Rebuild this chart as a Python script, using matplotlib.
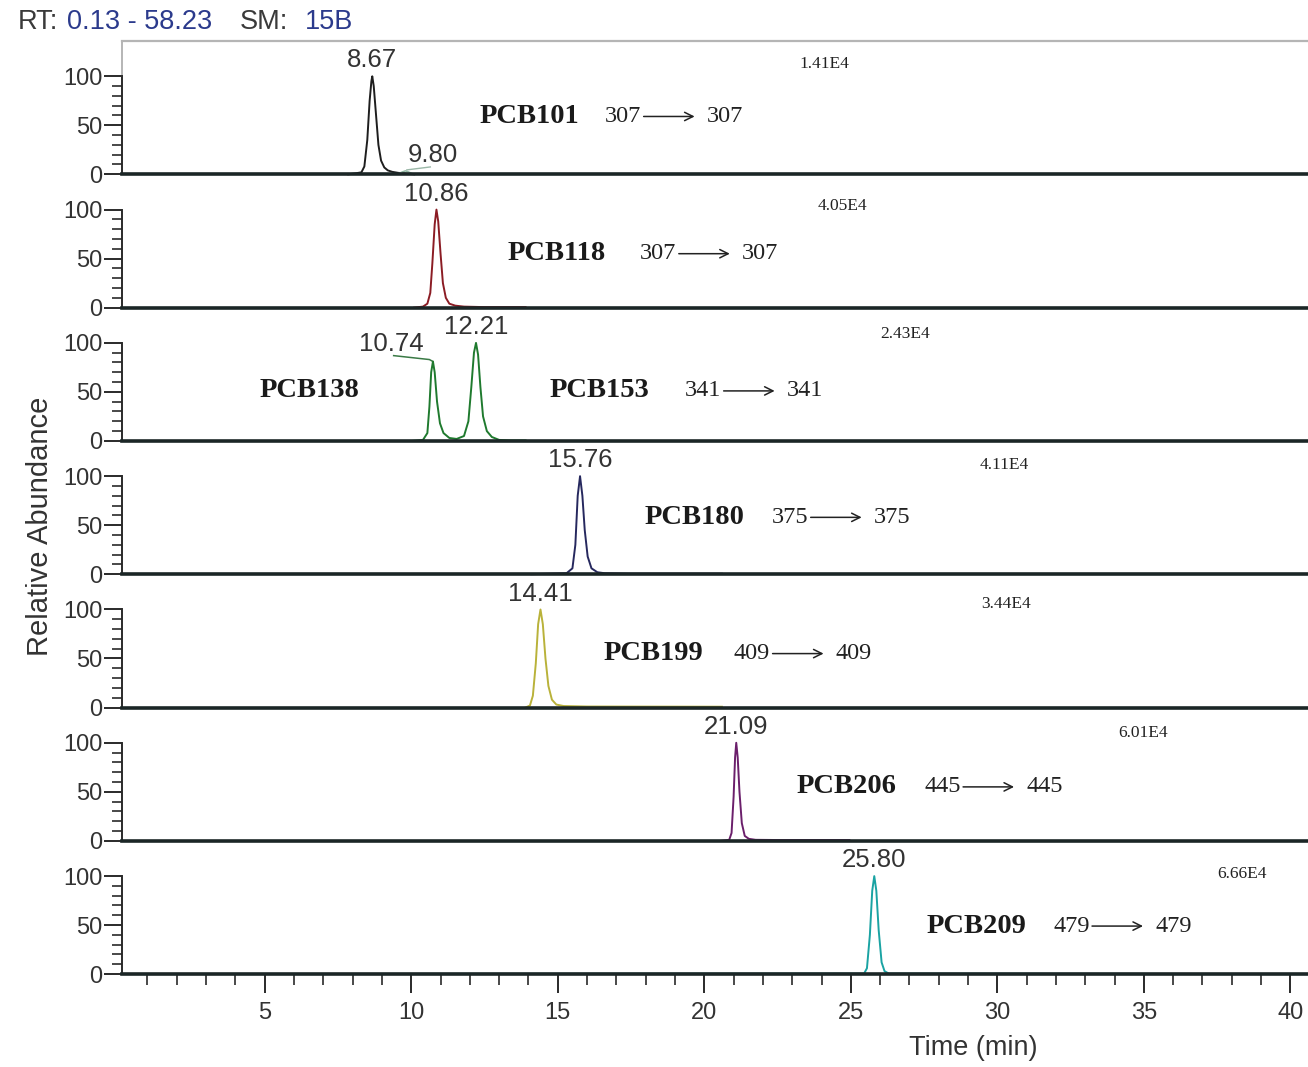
import matplotlib
matplotlib.use("Agg")
import matplotlib.pyplot as plt
from matplotlib.lines import Line2D

# ---- chromatogram data (time in min, relative abundance in %) ----
compounds = ["PCB101", "PCB118", "PCB153", "PCB180", "PCB199", "PCB206", "PCB209"]
base_peaks = ["1.41E4", "4.05E4", "2.43E4", "4.11E4", "3.44E4", "6.01E4", "6.66E4"]
transitions = [("307", "307"), ("307", "307"), ("341", "341"), ("375", "375"),
               ("409", "409"), ("445", "445"), ("479", "479")]
trace_colors = ["#1e1e1e", "#8b1c24", "#1f7a2e", "#26285e", "#b9b23a", "#6b1f6b", "#1aa3a3"]

t_pcb101 = [7.85, 8.10, 8.30, 8.40, 8.50, 8.58, 8.64, 8.67, 8.72, 8.80, 8.88, 8.97,
            9.08, 9.20, 9.35, 9.55, 9.75, 9.90, 10.10]
y_pcb101 = [0, 1, 2, 8, 35, 75, 95, 100, 90, 60, 30, 14, 7, 4, 2.5, 1.5, 1, 0.5, 0]
t_minor_980 = [9.55, 9.70, 9.80, 9.90, 10.05]
y_minor_980 = [0.5, 2.5, 3.5, 2.5, 0.5]

t_pcb118 = [10.10, 10.40, 10.55, 10.65, 10.72, 10.80, 10.86, 10.92, 11.00, 11.08,
            11.18, 11.30, 11.50, 11.80, 12.50, 13.90]
y_pcb118 = [0, 1, 4, 15, 45, 85, 100, 88, 55, 25, 10, 4, 2, 1, 0.5, 0.5]

t_pcb138_153 = [10.05, 10.40, 10.55, 10.62, 10.68, 10.74, 10.80, 10.88, 10.98, 11.10,
                11.30, 11.55, 11.80, 11.95, 12.05, 12.14, 12.21, 12.28, 12.36, 12.45,
                12.58, 12.75, 13.00, 13.40, 13.90]
y_pcb138_153 = [0, 1, 8, 35, 70, 81, 70, 40, 18, 8, 3, 2, 5, 20, 55, 90, 100, 88, 55,
                25, 10, 4, 1, 0.5, 0.5]

t_pcb180 = [14.10, 15.30, 15.50, 15.60, 15.68, 15.76, 15.84, 15.92, 16.02, 16.15,
            16.35, 16.60, 17.50, 20.60]
y_pcb180 = [0, 1, 6, 30, 80, 100, 80, 45, 18, 6, 2, 1, 0.5, 0.5]

t_pcb199 = [13.90, 14.05, 14.15, 14.25, 14.33, 14.41, 14.49, 14.58, 14.68, 14.80,
            14.95, 15.20, 16.00, 20.60]
y_pcb199 = [0, 2, 12, 45, 85, 100, 85, 50, 22, 8, 3, 1.5, 1, 0.8]

t_pcb206 = [20.60, 20.85, 20.93, 21.00, 21.05, 21.09, 21.14, 21.20, 21.28, 21.38,
            21.52, 21.75, 22.50, 24.95]
y_pcb206 = [0, 1, 8, 45, 85, 100, 85, 50, 18, 5, 2, 1, 0.8, 0.8]

t_pcb209 = [0.13, 25.45, 25.55, 25.65, 25.73, 25.80, 25.87, 25.95, 26.05, 26.15,
            26.30, 40.60]
y_pcb209 = [0, 0.5, 6, 40, 85, 100, 85, 45, 12, 3, 0.5, 0]

traces = [(t_pcb101, y_pcb101), (t_pcb118, y_pcb118), (t_pcb138_153, y_pcb138_153),
          (t_pcb180, y_pcb180), (t_pcb199, y_pcb199), (t_pcb206, y_pcb206),
          (t_pcb209, y_pcb209)]

# labelled peak apexes per panel: (retention time, relative height)
peak_labels = [[(8.67, 100)], [(10.86, 100)], [(12.21, 100)], [(15.76, 100)],
               [(14.41, 100)], [(21.09, 100)], [(25.80, 100)]]

# text placement per panel
name_pos = [(12.33, 59), (13.3, 55), (14.73, 51), (17.97, 58), (16.57, 55), (23.15, 55), (27.6, 49)]
trans_pos = [(16.6, 59), (17.8, 55), (19.33, 51), (22.3, 58), (21.0, 55), (27.5, 55), (31.9, 49)]
base_pos = [(24.1, 113), (24.73, 104), (26.85, 109), (30.25, 111), (30.3, 106), (34.97, 110), (38.35, 102)]

SANS = ["Liberation Sans", "DejaVu Sans"]
SERIF = ["Liberation Serif", "DejaVu Serif"]

W, H = 1308, 1067
fig = plt.figure(figsize=(W / 100, H / 100), dpi=100)

x_left_px, top_px, panel_px = 122, 41, 133.3
n = len(compounds)
ymax = 136
axes = []
for i in range(n):
    top = top_px + i * panel_px
    ax = fig.add_axes([x_left_px / W, 1 - (top + panel_px) / H, 1 - x_left_px / W, panel_px / H])
    axes.append(ax)
    ax.set_xlim(0.13, 40.6)
    ax.set_ylim(0, ymax)
    ax.patch.set_alpha(0)

    t, y = traces[i]
    ax.plot(t, y, color=trace_colors[i], lw=1.4, zorder=3, clip_on=False)

    # spines
    for s in ("top", "right"):
        ax.spines[s].set_visible(False)
    ax.spines["bottom"].set_color("#1b2626")
    ax.spines["bottom"].set_linewidth(2.6)
    ax.spines["bottom"].set_zorder(4)
    ax.spines["left"].set_color("#2a2a2a")
    ax.spines["left"].set_linewidth(1.4)
    ax.spines["left"].set_bounds(0, 100)

    ax.set_yticks([0, 50, 100])
    ax.set_yticks(range(10, 100, 10), minor=True)
    ax.tick_params(axis="y", which="major", length=13, width=1.4, color="#2a2a2a",
                   labelsize=17, pad=1, labelcolor="#333333")
    ax.tick_params(axis="y", which="minor", length=7, width=1.2, color="#2a2a2a")
    for lab in ax.get_yticklabels():
        lab.set_family(SANS)

    if i < n - 1:
        ax.set_xticks([])
    else:
        ax.set_xticks(range(5, 41, 5))
        ax.set_xticks(range(1, 41), minor=True)
        ax.tick_params(axis="x", which="major", length=14, width=1.4, color="#2a2a2a",
                       labelsize=17, pad=6, labelcolor="#333333")
        ax.tick_params(axis="x", which="minor", length=8, width=1.2, color="#2a2a2a")
        for lab in ax.get_xticklabels():
            lab.set_family(SANS)

    # retention-time labels at the apexes
    for rt, h in peak_labels[i]:
        ax.text(rt, h + 4, f"{rt:.2f}", ha="center", va="bottom", fontsize=18.5,
                family=SANS, color="#333333")

    # compound name, transition and base-peak intensity
    nx, ny = name_pos[i]
    ax.text(nx, ny, compounds[i], ha="left", va="center", fontsize=20.5,
            fontweight="bold", family=SERIF, color="#1a1a1a")
    tx, ty = trans_pos[i]
    src, dst = transitions[i]
    ax.text(tx, ty, src, ha="left", va="center", fontsize=17.5, family=SERIF,
            color="#222222")
    ax.annotate("", xy=(tx + 3.07, ty), xytext=(tx + 1.33, ty),
                arrowprops=dict(arrowstyle="->", lw=1.1, color="#222222",
                                shrinkA=0, shrinkB=0, mutation_scale=15))
    ax.text(tx + 3.48, ty, dst, ha="left", va="center", fontsize=17.5, family=SERIF,
            color="#222222")
    bx, by = base_pos[i]
    ax.text(bx, by, base_peaks[i], ha="center", va="center", fontsize=12.5,
            family=SERIF, color="#222222")

# first panel: frame top and left extension, minor peak at 9.80
ax0 = axes[0]
ax0.add_line(Line2D([0, 1], [1, 1], transform=ax0.transAxes, color="#b5b5b5", lw=1.6,
                    clip_on=False))
ax0.add_line(Line2D([0, 0], [100 / ymax, 1], transform=ax0.transAxes, color="#b5b5b5",
                    lw=1.4, clip_on=False))
ax0.plot(t_minor_980, y_minor_980, color="#8fb5a0", lw=1.1, zorder=3)
ax0.text(10.75, 7, "9.80", ha="center", va="bottom", fontsize=18.5, family=SANS,
         color="#333333")
ax0.plot([9.85, 10.65], [4.5, 7.5], color="#9bb8a8", lw=1.0)

# third panel: the PCB138 peak at 10.74 with leader line, and its name
ax2 = axes[2]
ax2.text(9.33, 87, "10.74", ha="center", va="bottom", fontsize=18.5, family=SANS,
         color="#333333")
ax2.plot([9.4, 10.62, 10.74], [87, 83, 81], color="#3a7a45", lw=1.1)
ax2.text(4.83, 51, "PCB138", ha="left", va="center", fontsize=20.5, fontweight="bold",
         family=SERIF, color="#1a1a1a")

# header and axis titles
fig.text(18 / W, 1 - 22 / H, "RT:", ha="left", va="center", fontsize=19.5, family=SANS,
         color="#3a3a3a")
fig.text(67 / W, 1 - 22 / H, "0.13 - 58.23", ha="left", va="center", fontsize=19.5,
         family=SANS, color="#2b3a8c")
fig.text(240 / W, 1 - 22 / H, "SM:", ha="left", va="center", fontsize=19.5, family=SANS,
         color="#3a3a3a")
fig.text(305 / W, 1 - 22 / H, "15B", ha="left", va="center", fontsize=19.5, family=SANS,
         color="#2b3a8c")
fig.text(40 / W, 1 - 526 / H, "Relative Abundance", rotation=90, ha="center",
         va="center", fontsize=21, family=SANS, color="#333333")
fig.text(973 / W, 1 - 1048 / H, "Time (min)", ha="center", va="center", fontsize=19.5,
         family=SANS, color="#333333")

fig.savefig("out.png", dpi=100, facecolor="white")
